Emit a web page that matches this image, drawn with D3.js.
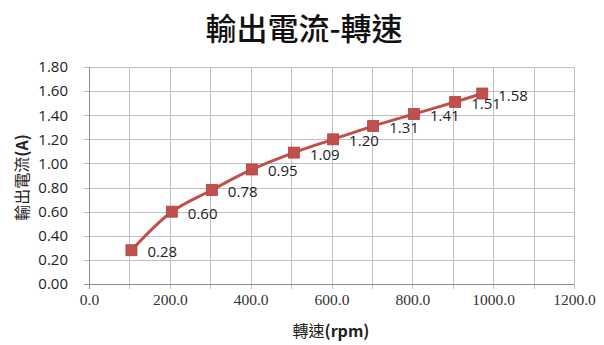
<!DOCTYPE html>
<html>
<head>
<meta charset="utf-8">
<script src="https://cdn.jsdelivr.net/npm/d3@7/dist/d3.min.js"></script>
<style>
  html, body { margin: 0; padding: 0; background: #fff; }
  svg { display: block; }
</style>
</head>
<body>
<svg id="chart" width="604" height="345"></svg>
<script>
// Output current vs. rotational speed
const speedRpm = [105, 205, 304, 403, 507, 604, 703, 804, 906, 973];
const currentA = [0.28, 0.60, 0.78, 0.95, 1.09, 1.20, 1.31, 1.41, 1.51, 1.58];
const xTicks = [0, 200, 400, 600, 800, 1000, 1200];
const xGrid = d3.range(0, 1201, 100);
const yTicks = [0, 0.2, 0.4, 0.6, 0.8, 1.0, 1.2, 1.4, 1.6, 1.8];

const titleText = "輸出電流-轉速";
const xTitleMain = "轉速", xTitleUnit = "(rpm)";
const yTitleMain = "輸出電流", yTitleUnit = "(A)";

const svg = d3.select("#chart");
const m = { left: 89, right: 574, top: 67, bottom: 284 };

const x = d3.scaleLinear().domain([0, 1200]).range([m.left, m.right]);
const y = d3.scaleLinear().domain([0, 1.8]).range([m.bottom, m.top]);

const gridColor = "#bfbfbf";
const red = "#c0504d";
const cjk = "'Noto Sans CJK TC', 'Noto Sans CJK SC', sans-serif";
const sans = "'Open Sans', 'Noto Sans', sans-serif";
const serif = "'Liberation Serif', 'DejaVu Serif', serif";

// gridlines
svg.append("g").selectAll("line").data(yTicks).join("line")
  .attr("x1", m.left - 5).attr("x2", m.right)
  .attr("y1", d => Math.round(y(d)) + 0.5).attr("y2", d => Math.round(y(d)) + 0.5)
  .attr("stroke", gridColor).attr("stroke-width", 1);
svg.append("g").selectAll("line").data(xGrid).join("line")
  .attr("x1", d => Math.round(x(d)) + 0.5).attr("x2", d => Math.round(x(d)) + 0.5)
  .attr("y1", m.top).attr("y2", m.bottom + 5)
  .attr("stroke", gridColor).attr("stroke-width", 1);

// axis lines
svg.append("line")
  .attr("x1", m.left + 0.5).attr("x2", m.left + 0.5)
  .attr("y1", m.top).attr("y2", m.bottom + 5)
  .attr("stroke", "#8c8c8c");
svg.append("line")
  .attr("x1", m.left - 5).attr("x2", m.right)
  .attr("y1", Math.round(y(0)) + 0.5).attr("y2", Math.round(y(0)) + 0.5)
  .attr("stroke", "#8c8c8c");

// y tick labels
const yAxis = d3.axisLeft(y).tickValues(yTicks).tickFormat(d3.format(".2f")).tickSize(0).tickPadding(21);
svg.append("g").attr("transform", `translate(${m.left},0)`).call(yAxis)
  .call(g => g.select(".domain").remove())
  .selectAll("text")
  .attr("font-family", sans).attr("font-size", 15).attr("fill", "#222");

// x tick labels
const xAxis = d3.axisBottom(x).tickValues(xTicks).tickFormat(d3.format(".1f")).tickSize(0).tickPadding(10);
svg.append("g").attr("transform", `translate(0,${m.bottom})`).call(xAxis)
  .call(g => g.select(".domain").remove())
  .selectAll("text")
  .attr("font-family", serif).attr("font-size", 15.5).attr("fill", "#333");

// smoothed series line
const pts = speedRpm.map((s, i) => [s, currentA[i]]);
const line = d3.line().x(d => x(d[0])).y(d => y(d[1])).curve(d3.curveCatmullRom.alpha(0.5));
svg.append("path").datum(pts)
  .attr("d", line).attr("fill", "none")
  .attr("stroke", red).attr("stroke-width", 3);

// square markers
const ms = 11;
svg.append("g").selectAll("rect").data(pts).join("rect")
  .attr("x", d => x(d[0]) - ms / 2).attr("y", d => y(d[1]) - ms / 2)
  .attr("width", ms).attr("height", ms)
  .attr("fill", red).attr("stroke", "#b04441").attr("stroke-width", 0.8);

// data labels
svg.append("g").selectAll("text").data(pts).join("text")
  .attr("x", d => x(d[0]) + 16).attr("y", d => y(d[1]) + 7)
  .attr("font-family", sans).attr("font-size", 15).attr("fill", "#222")
  .text(d => d[1].toFixed(2));

// title
svg.append("text")
  .attr("x", 304).attr("y", 40).attr("text-anchor", "middle")
  .attr("font-family", cjk).attr("font-size", 31).attr("font-weight", 500).attr("fill", "#111")
  .text(titleText);

// axis titles: CJK part regular, unit part bold
const xt = svg.append("text")
  .attr("x", 331).attr("y", 337).attr("text-anchor", "middle")
  .attr("font-family", cjk).attr("font-size", 16).attr("fill", "#222");
xt.append("tspan").text(xTitleMain);
xt.append("tspan").attr("font-weight", 700).text(xTitleUnit);

const yt = svg.append("text")
  .attr("transform", `translate(28,${(m.top + m.bottom) / 2 + 2}) rotate(-90)`)
  .attr("text-anchor", "middle")
  .attr("font-family", cjk).attr("font-size", 16).attr("fill", "#222");
yt.append("tspan").text(yTitleMain);
yt.append("tspan").attr("font-weight", 700).text(yTitleUnit);
</script>
</body>
</html>
